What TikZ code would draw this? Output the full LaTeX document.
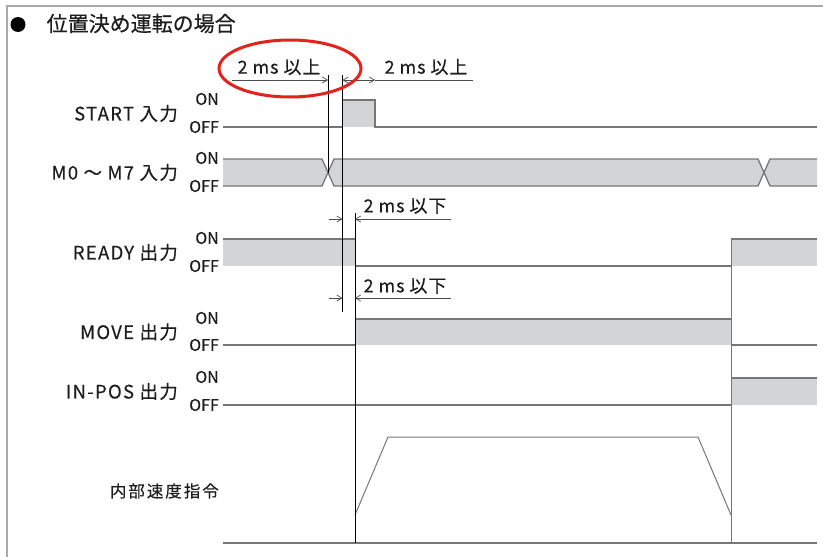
\documentclass[tikz,border=0pt]{standalone}
\usepackage{fontspec}
\setmainfont{Noto Sans CJK JP}
\usetikzlibrary{arrows.meta}
\definecolor{sigfill}{HTML}{D3D4D6}
\definecolor{sigline}{HTML}{767676}
\definecolor{framegray}{HTML}{A9A9A9}
\definecolor{markred}{HTML}{E3221C}
\definecolor{txt}{HTML}{1E1E1E}
\tikzset{
  sig/.style={draw=sigline, line width=1.3pt},
  guide/.style={draw=black, line width=0.8pt},
  dim/.style={draw=black!70, line width=0.7pt},
  tipr/.style={-{Straight Barb[length=5pt,width=6pt,line width=0.7pt]}},
  lab/.style={font=\fontsize{18.5}{22}\selectfont\addfontfeature{LetterSpace=7,FakeBold=0.4}, inner sep=0pt, text=txt},
  vlab/.style={font=\fontsize{16.5}{20}\selectfont\addfontfeature{LetterSpace=12,FakeBold=0.4}, inner sep=0pt, text=txt},
  onoff/.style={font=\fontsize{16}{19}\selectfont\addfontfeature{FakeBold=0.4}, inner sep=0pt, text=txt},
  dimtext/.style={font=\fontsize{18}{21}\selectfont\addfontfeature{LetterSpace=5,FakeBold=0.4}, inner sep=0pt, text=txt},
}
\newcommand\siglab[4]{%
  \node[lab, anchor=east] (#1) at (178,{(#2+#3)/2}) {#4};
  \node[onoff, anchor=east] (#1on) at (219,#2-1) {ON};
  \node[onoff, anchor=east] (#1off) at (219,#3) {OFF};
}
\begin{document}
\begin{tikzpicture}[x=1pt,y=-1pt]
\useasboundingbox (0,0) rectangle (823,557);
% frame
\draw[framegray, line width=2.2pt] (7,557) -- (7,6) -- (823,6);
% title
\fill[black] (18,24.5) circle (7.5);
\node[anchor=west, inner sep=0pt, text=txt, font=\fontsize{21}{25}\selectfont\addfontfeature{FakeBold=0.5}] (title) at (46.5,23.5) {位置決め運転の場合};

% labels
\siglab{start}{100}{127}{START 入力}
\siglab{msel}{159}{186}{M0 ～ M7 入力}
\siglab{ready}{239}{266}{READY 出力}
\siglab{move}{319}{345}{MOVE 出力}
\siglab{inpos}{378}{405}{IN-POS 出力}
\node[vlab, anchor=east] (vel) at (219,491) {内部速度指令};

% START
\fill[sigfill] (343,100) rectangle (375,127);
\draw[sig] (223,127) -- (343,127);
\draw[sig] (343,100) -- (375,100) -- (375,127) -- (817,127);

% M0-M7
\fill[sigfill] (223,159) -- (322,159) -- (328,172.5) -- (322,186) -- (223,186) -- cycle;
\fill[sigfill] (328,172.5) -- (334,159) -- (758,159) -- (764,172.5) -- (758,186) -- (334,186) -- cycle;
\fill[sigfill] (764,172.5) -- (770,159) -- (817,159) -- (817,186) -- (770,186) -- cycle;
\draw[sig] (223,159) -- (322,159) -- (334,186) -- (758,186) -- (770,159) -- (817,159);
\draw[sig] (223,186) -- (322,186) -- (334,159) -- (758,159) -- (770,186) -- (817,186);

% READY
\fill[sigfill] (223,239) rectangle (355,266);
\fill[sigfill] (731,239) rectangle (817,266);
\draw[sig] (223,239) -- (355,239);
\draw[sig] (355,266) -- (731,266);
\draw[sig] (731,239) -- (817,239);

% MOVE
\fill[sigfill] (355,319) rectangle (731,345);
\draw[sig] (223,345) -- (355,345);
\draw[sig] (355,319) -- (731,319);
\draw[sig] (731,345) -- (817,345);

% IN-POS
\fill[sigfill] (731,378) rectangle (817,405);
\draw[sig] (223,405) -- (731,405);
\draw[sig] (731,378) -- (817,378);

% internal speed command
\draw[sig, line width=1pt] (355,515) -- (388,437) -- (698,437) -- (731,515);
\draw[sig] (223,543) -- (817,543);

% guide lines
\draw[guide] (328,75) -- (328,172.5);
\draw[guide] (342.5,75) -- (342.5,312);
\draw[guide] (355,213) -- (355,543);
\draw[sig, line width=1pt] (731,239) -- (731,543);

% dimension: 2 ms 以上
\draw[dim, tipr] (232,80) -- (328,80);
\draw[dim, tipr] (359,80) -- (342.5,80);
\draw[dim, tipr] (359,80) -- (375,80);
\draw[dim] (375,80) -- (473,80);
\node[dimtext] (d1) at (279,67) {2 ms 以上};
\node[dimtext] (d2) at (426,67) {2 ms 以上};

% dimension: 2 ms 以下
\draw[dim, tipr] (329,219) -- (342.5,219);
\draw[dim, tipr] (451,219) -- (355,219);
\node[dimtext] (d3) at (405,206) {2 ms 以下};
\draw[dim, tipr] (329,298) -- (342.5,298);
\draw[dim, tipr] (451,298) -- (355,298);
\node[dimtext] (d4) at (405,286) {2 ms 以下};

% red highlight
\draw[markred, line width=3pt] (290,68.5) ellipse [x radius=71, y radius=28.5];
\end{tikzpicture}
\end{document}
